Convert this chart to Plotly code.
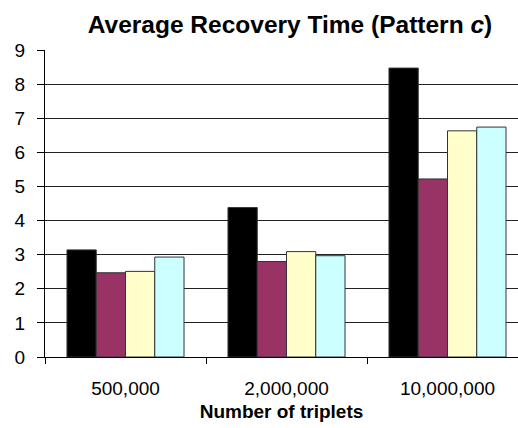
import plotly.graph_objects as go

# Data
categories = ["500,000", "2,000,000", "10,000,000"]
series_names = ["Series 1", "Series 2", "Series 3", "Series 4"]
series_a = [3.14, 4.38, 8.47]
series_b = [2.47, 2.80, 5.22]
series_c = [2.51, 3.09, 6.63]
series_d = [2.93, 2.97, 6.74]
y_ticks = list(range(0, 10))

series_values = [series_a, series_b, series_c, series_d]
colors = ["#000000", "#993366", "#FFFFCC", "#CCFFFF"]

FONT = "Liberation Sans, Arial, sans-serif"

fig = go.Figure()
for name, vals, col in zip(series_names, series_values, colors):
    fig.add_trace(go.Bar(
        x=categories, y=vals, name=name,
        marker=dict(color=col, line=dict(color="#333333", width=1)),
        showlegend=False,
    ))

fig.update_layout(
    width=518, height=428,
    margin=dict(l=45, r=0, t=50, b=71),
    paper_bgcolor="white", plot_bgcolor="white",
    barmode="group", bargap=0.273, bargroupgap=0,
    font=dict(family=FONT, color="#000000"),
    title=dict(
        text="<b>Average Recovery Time (Pattern <i>c</i>)</b>",
        x=290 / 518, xanchor="center",
        y=1 - 24 / 428, yanchor="middle",
        font=dict(size=24.5, family=FONT, color="#000000"),
    ),
    xaxis=dict(
        type="category",
        range=[-0.5, -0.5 + (518 - 45) / 161],
        showline=True, linecolor="#000000", linewidth=1,
        ticks="outside", ticklen=6, tickcolor="#000000", tickson="boundaries",
        tickfont=dict(size=19, family=FONT),
        ticklabelstandoff=14,
        showgrid=False,
        title=dict(text="<b>Number of triplets</b>", font=dict(size=19, family=FONT), standoff=6),
    ),
    yaxis=dict(
        range=[0, 9],
        tickvals=y_ticks,
        showline=True, linecolor="#000000", linewidth=1,
        ticks="outside", ticklen=7, tickcolor="#000000",
        tickfont=dict(size=19, family=FONT),
        ticklabelstandoff=8,
        showgrid=True, gridcolor="#222222", gridwidth=1,
        zeroline=False,
    ),
)

fig.write_html("out.html")
